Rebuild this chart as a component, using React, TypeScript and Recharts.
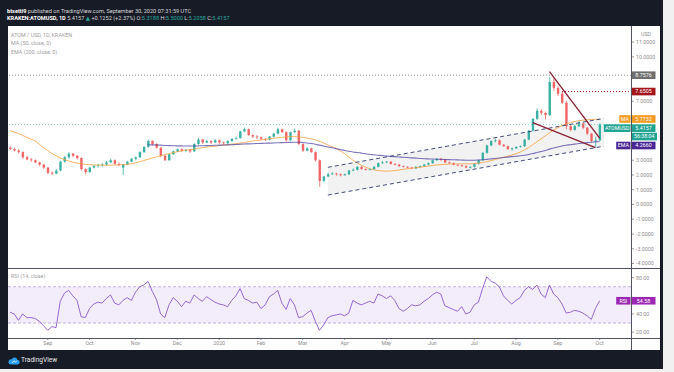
import React from 'react';
import { ComposedChart, Bar, Line, Area, XAxis, YAxis, ReferenceLine, ReferenceArea } from 'recharts';

// 3-day candles, Aug 3 2019 -> Sep 30 2020 : [open, high, low, close]
const candles: number[][] = [
  [3.85,3.95,3.70,3.75],[3.75,3.85,3.60,3.65],[3.65,3.75,3.45,3.55],[3.55,3.60,3.10,3.20],[3.20,3.30,3.00,3.05],
  [3.05,3.15,2.90,3.00],[3.00,3.05,2.80,2.85],[2.85,2.90,2.60,2.70],[2.70,2.75,2.40,2.50],[2.50,2.55,2.05,2.15],
  [2.15,2.25,2.00,2.10],[2.10,2.40,2.05,2.30],[2.30,2.95,2.25,2.90],[2.90,3.30,2.85,3.20],[3.20,3.55,3.10,3.45],
  [3.45,3.50,3.20,3.30],[3.30,3.35,3.05,3.15],[3.15,3.20,2.30,2.40],[2.40,2.45,2.05,2.20],[2.20,2.55,2.15,2.50],
  [2.50,2.70,2.45,2.60],[2.60,2.75,2.50,2.65],[2.65,2.80,2.55,2.70],[2.70,2.95,2.65,2.85],[2.85,3.10,2.80,3.00],
  [3.00,3.05,2.70,2.75],[2.75,2.85,2.60,2.70],[2.50,2.75,2.00,2.70],[2.70,2.95,2.65,2.90],[2.90,3.15,2.85,3.10],
  [3.10,3.25,3.00,3.20],[3.20,3.60,3.15,3.55],[3.55,3.95,3.50,3.90],[3.90,4.40,3.85,4.30],[4.30,4.35,4.00,4.10],
  [4.10,4.15,3.80,3.85],[3.85,3.90,3.20,3.30],[3.30,3.35,2.95,3.00],[3.00,3.45,2.95,3.40],[3.40,3.65,3.35,3.60],
  [3.60,3.80,3.55,3.75],[3.75,3.80,3.55,3.65],[3.65,3.75,3.55,3.70],[3.70,3.75,3.50,3.60],[3.60,4.15,3.55,4.10],
  [4.10,4.50,4.05,4.40],[4.40,4.45,4.10,4.20],[4.20,4.40,4.15,4.30],[4.30,4.35,4.10,4.20],[4.20,4.45,4.15,4.35],
  [4.35,4.40,4.10,4.20],[4.20,4.25,4.05,4.15],[4.15,4.35,4.10,4.30],[4.30,4.50,4.25,4.45],[4.45,4.60,4.40,4.50],
  [4.50,5.00,4.45,4.95],[4.95,5.20,4.90,5.10],[5.10,5.15,4.65,4.70],[4.70,4.75,4.50,4.60],[4.60,4.70,4.45,4.55],
  [4.55,4.60,4.35,4.45],[4.45,4.50,4.30,4.40],[4.40,4.65,4.35,4.60],[4.60,4.85,4.55,4.80],[4.80,5.20,4.75,5.10],
  [5.10,5.15,4.85,4.90],[4.90,4.95,4.25,4.35],[4.35,4.95,4.30,4.90],[4.90,5.15,4.85,5.00],[5.00,5.05,4.00,4.10],
  [4.10,4.15,3.55,3.65],[3.65,3.90,3.60,3.80],[3.80,3.85,3.50,3.55],[3.55,3.60,2.90,3.00],[3.00,3.05,1.20,1.60],
  [1.60,1.95,1.50,1.90],[1.90,2.15,1.85,2.05],[2.05,2.20,2.00,2.10],[2.10,2.15,1.95,2.05],[2.05,2.10,1.90,1.98],
  [1.98,2.10,1.95,2.05],[2.05,2.35,2.00,2.30],[2.30,2.45,2.25,2.35],[2.35,2.60,2.30,2.55],[2.55,2.60,2.35,2.40],
  [2.40,2.45,2.30,2.35],[2.35,2.45,2.30,2.40],[2.40,2.60,2.35,2.55],[2.55,2.85,2.50,2.80],[2.80,2.95,2.75,2.85],
  [2.85,2.95,2.80,2.90],[2.90,2.95,2.70,2.75],[2.75,2.80,2.65,2.70],[2.70,2.75,2.55,2.60],[2.60,2.65,2.50,2.55],
  [2.55,2.60,2.45,2.50],[2.50,2.55,2.40,2.45],[2.45,2.60,2.40,2.55],[2.55,2.65,2.50,2.60],[2.60,2.75,2.55,2.70],
  [2.70,2.85,2.65,2.80],[2.80,3.05,2.75,3.00],[3.00,3.15,2.95,3.10],[3.10,3.15,2.95,3.05],[3.05,3.10,2.80,2.85],
  [2.85,2.90,2.75,2.80],[2.80,2.85,2.65,2.70],[2.70,2.75,2.60,2.65],[2.65,2.70,2.55,2.60],[2.60,2.65,2.45,2.50],
  [2.50,2.60,2.45,2.55],[2.55,2.80,2.50,2.75],[2.75,3.05,2.70,3.00],[3.00,3.55,2.95,3.50],[3.50,4.05,3.45,4.00],
  [4.00,4.35,3.95,4.30],[4.30,4.45,4.20,4.35],[4.35,4.40,4.00,4.05],[4.05,4.10,3.90,3.95],[3.95,4.00,3.70,3.75],
  [3.75,3.85,3.65,3.80],[3.80,3.95,3.75,3.90],[3.90,4.00,3.85,3.95],[3.95,4.45,3.90,4.40],[4.40,5.05,4.35,5.00],
  [5.00,5.85,4.95,5.80],[5.80,6.50,5.70,6.35],[6.35,6.45,6.05,6.20],[6.20,6.30,5.75,6.05],[6.05,8.65,6.00,8.30],
  [8.30,8.55,7.70,7.90],[7.90,8.00,7.35,7.50],[7.50,7.65,6.80,6.90],[6.90,7.00,5.10,5.30],[5.30,5.45,4.95,5.05],
  [5.05,5.40,5.00,5.30],[5.30,5.65,5.25,5.50],[5.50,5.55,5.10,5.20],[5.20,5.25,4.70,4.80],[4.80,4.85,4.20,4.30],
  [4.30,4.60,3.90,4.35],[4.35,5.50,4.30,5.4157],
];

const ma50: number[] = [
  5.00,4.90,4.80,4.68,4.55,4.43,4.30,4.08,3.85,3.65,
  3.45,3.30,3.15,3.05,2.95,2.87,2.80,2.76,2.72,2.70,
  2.68,2.67,2.66,2.66,2.66,2.67,2.68,2.70,2.72,2.76,
  2.82,2.90,2.98,3.06,3.15,3.22,3.30,3.38,3.45,3.52,
  3.58,3.63,3.68,3.72,3.75,3.80,3.85,3.89,3.92,3.95,
  3.98,4.02,4.05,4.09,4.12,4.16,4.20,4.25,4.30,4.34,
  4.37,4.41,4.45,4.49,4.52,4.55,4.58,4.59,4.60,4.58,
  4.55,4.50,4.45,4.38,4.28,4.16,4.03,3.92,3.80,3.62,
  3.45,3.22,3.00,2.82,2.66,2.53,2.43,2.35,2.30,2.27,
  2.26,2.27,2.30,2.34,2.38,2.42,2.45,2.49,2.52,2.56,
  2.60,2.64,2.68,2.70,2.72,2.74,2.75,2.75,2.75,2.75,
  2.76,2.77,2.80,2.84,2.90,2.97,3.05,3.12,3.20,3.27,
  3.35,3.44,3.55,3.70,3.85,4.05,4.25,4.45,4.65,4.85,
  5.05,5.20,5.35,5.45,5.55,5.62,5.68,5.71,5.74,5.76,
  5.77,5.7732,
];

const ema200: (number | null)[] = [
  null,null,null,null,null,null,null,null,null,null,
  null,null,null,null,null,null,null,null,null,null,
  null,null,null,null,null,null,null,null,null,null,
  null,null,null,4.05,4.04,4.03,4.02,4.00,3.99,3.98,
  3.97,3.97,3.96,3.96,3.96,3.97,3.98,3.99,4.00,4.01,
  4.02,4.03,4.04,4.05,4.06,4.08,4.10,4.11,4.12,4.13,
  4.14,4.15,4.16,4.17,4.18,4.19,4.20,4.21,4.22,4.22,
  4.20,4.17,4.13,4.08,4.02,3.96,3.90,3.84,3.78,3.72,
  3.66,3.61,3.56,3.52,3.48,3.44,3.40,3.37,3.34,3.31,
  3.28,3.26,3.24,3.22,3.20,3.18,3.16,3.14,3.12,3.10,
  3.09,3.08,3.07,3.06,3.05,3.04,3.03,3.02,3.01,3.00,
  3.00,3.00,3.01,3.03,3.06,3.09,3.12,3.15,3.18,3.21,
  3.24,3.27,3.30,3.34,3.39,3.45,3.52,3.59,3.66,3.75,
  3.83,3.90,3.96,4.01,4.05,4.09,4.13,4.16,4.19,4.22,
  4.24,4.266,
];

const rsi14: number[] = [
  42,40,33,40,36,36,35,32,27,22,
  26,25,54,63,66,60,55,37,36,46,
  51,53,52,57,61,52,50,55,58,55,
  64,70,72,76,65,56,40,36,50,58,
  54,48,54,52,61,57,54,59,56,53,
  51,50,48,55,60,68,57,55,52,53,
  46,50,59,62,66,52,45,57,50,36,
  37,41,44,32,22,28,36,38,39,40,
  38,41,55,52,50,52,54,52,62,60,
  57,60,55,46,43,46,50,49,50,54,
  57,61,64,62,49,47,45,43,48,40,
  42,50,53,68,81,76,74,70,60,55,
  51,55,58,66,70,67,72,62,58,72,
  62,58,51,41,42,44,43,41,38,34,
  46,54.58,
];

// trend-line drawings: [slot, price]
const channelUpper: number[][] = [[76, 2.52], [142, 5.83]];
const channelLower: number[][] = [[76, 0.64], [142, 3.95]];
const wedgeUpper: number[][] = [[129, 9.0], [141, 4.5]];
const wedgeLower: number[][] = [[125, 5.55], [140, 3.85]];

const TOTAL_SLOTS = 149;
const monthTicks = [9, 19, 30, 40, 50, 60, 70, 80, 90, 101, 111, 121, 131, 141];
const monthLabels = ['Sep', 'Oct', 'Nov', 'Dec', '2020', 'Feb', 'Mar', 'Apr', 'May', 'Jun', 'Jul', 'Aug', 'Sep', 'Oct'];
// price-axis ticks that are not hidden behind the axis tags
const priceTicks = [-4, -3, -2, -1, 0, 1, 2, 3, 7, 10, 11];
const rsiTicks = [20, 40, 80];

const LAST = 5.4157;
const HIGH_LINE = 8.7576;
const RES_LINE = 7.6505;
const MA_LAST = 5.7732;
const EMA_LAST = 4.266;
const RSI_LAST = 54.58;

const rows: any[] = [];
for (let i = 0; i < TOTAL_SLOTS; i++) {
  const r: any = { i };
  const c = candles[i];
  if (c) {
    r.o = c[0]; r.h = c[1]; r.l = c[2]; r.c = c[3];
    r.range = [c[2], c[1]];
    r.ma = ma50[i];
    r.ema = ema200[i];
    r.rsi = rsi14[i];
  }
  rows.push(r);
}
const putLine = (key: string, pts: number[][]) => pts.forEach(([s, v]) => { rows[s][key] = v; });
putLine('chUp', channelUpper);
putLine('chLo', channelLower);
putLine('wUp', wedgeUpper);
putLine('wLo', wedgeLower);
channelUpper.forEach(([s, v], k) => { rows[s].chBand = [channelLower[k][1], v]; });

const FONT = 'Roboto, "DejaVu Sans", sans-serif';

const Candle = (props: any) => {
  const { x, y, width, height, payload } = props;
  if (!payload || payload.o == null) return null;
  const { o, h, l, c } = payload;
  const top = Math.min(y, y + height);
  const bot = Math.max(y, y + height);
  const k = (bot - top) / (h - l);
  const yO = top + (h - o) * k;
  const yC = top + (h - c) * k;
  const color = c >= o ? '#2bab9c' : '#ef5a5a';
  const cx = x + width / 2;
  const bw = 2.4;
  return (
    <g opacity={0.92}>
      <line x1={cx} x2={cx} y1={top} y2={bot} stroke={color} strokeWidth={0.8} />
      <rect x={cx - bw / 2} y={Math.min(yO, yC)} width={bw} height={Math.max(0.8, Math.abs(yO - yC))} fill={color} />
    </g>
  );
};

function makeTag(value: string, bg: string, prefix?: string, dy = 0, sub?: string) {
  return (props: any) => {
    const vb = props.viewBox || {};
    const xr = (vb.x || 0) + (vb.width || 0);
    const yc = (vb.y || 0) + dy;
    const h = 7.6;
    const vw = 24;
    const pw = prefix ? prefix.length * 3.1 + 5 : 0;
    return (
      <g style={{ fontFamily: FONT }}>
        {prefix ? (
          <g>
            <rect x={xr - pw - 0.5} y={yc - h / 2} width={pw} height={h} fill={bg} />
            <text x={xr - pw / 2 - 0.5} y={yc} dy="0.35em" textAnchor="middle" fontSize={5.3} fill="#fff">{prefix}</text>
          </g>
        ) : null}
        <rect x={xr + 0.5} y={yc - h / 2} width={vw} height={h} fill={bg} />
        <text x={xr + 0.5 + vw / 2} y={yc} dy="0.35em" textAnchor="middle" fontSize={5.3} fill="#fff">{value}</text>
        {sub ? (
          <g>
            <rect x={xr + 0.5} y={yc + h / 2 + 0.8} width={vw + 1.5} height={h} fill={bg} />
            <text x={xr + 0.5 + (vw + 1.5) / 2} y={yc + h + 0.8} dy="0.35em" textAnchor="middle" fontSize={5.3} fill="#fff">{sub}</text>
          </g>
        ) : null}
      </g>
    );
  };
}

const tickStyle = { fontSize: 5.3, fill: '#8d8d8d', fontFamily: FONT };

export default function App() {
  return (
    <div style={{ position: 'absolute', left: 0, top: 0, width: 674, height: 372, background: '#f1f1f1', overflow: 'hidden', fontFamily: FONT }}>
      <div style={{ position: 'absolute', left: 0, top: 0, width: 663, height: 369, background: '#171b26' }} />
      <div style={{ position: 'absolute', left: 7, top: 8, fontSize: 5.6, lineHeight: '7px', color: '#d6d6d6', whiteSpace: 'nowrap' }}>
        <b style={{ color: '#ffffff' }}>btsetti9</b> published on TradingView.com, September 30, 2020 07:31:59 UTC
      </div>
      <div style={{ position: 'absolute', left: 7, top: 15, fontSize: 5.6, lineHeight: '7px', color: '#d6d6d6', whiteSpace: 'nowrap' }}>
        <b style={{ color: '#ffffff' }}>KRAKEN:ATOMUSD, 1D</b> 5.4157 <span style={{ color: '#26a69a' }}>▲</span> +0.1252 (+2.37%) O:<span style={{ color: '#26a69a' }}>5.3188</span> H:<span style={{ color: '#26a69a' }}>5.5000</span> L:<span style={{ color: '#26a69a' }}>5.2058</span> C:<span style={{ color: '#26a69a' }}>5.4157</span>
      </div>

      <div style={{ position: 'absolute', left: 8, top: 26, width: 652, height: 324, background: '#ffffff' }} />

      <div style={{ position: 'absolute', left: 8, top: 26 }}>
        <ComposedChart width={652} height={242} data={rows} margin={{ top: 0, right: 0, bottom: 0, left: 0 }} barCategoryGap="20%">
          <XAxis dataKey="i" type="category" scale="band" hide />
          <YAxis
            orientation="right"
            width={29}
            type="number"
            domain={[-4.3, 12.09]}
            allowDataOverflow
            ticks={priceTicks}
            interval={0}
            tickFormatter={(v: number) => v.toFixed(4)}
            tick={tickStyle}
            tickSize={3}
            tickMargin={2}
            tickLine={{ stroke: '#9a9a9a' }}
            axisLine={false}
          />
          <ReferenceLine y={HIGH_LINE} stroke="#9a9a9a" strokeDasharray="1 2" strokeWidth={1} />
          <ReferenceLine y={LAST} stroke="#6cc7bd" strokeOpacity={0.8} strokeDasharray="1 2" strokeWidth={1} />
          <ReferenceLine segment={[{ x: 132, y: RES_LINE }, { x: 148, y: RES_LINE }]} stroke="#b71c1c" strokeDasharray="1 2" strokeWidth={1} />
          <Area dataKey="chBand" type="linear" connectNulls fill="#d9d9d9" fillOpacity={0.35} stroke="none" isAnimationActive={false} />
          <Line dataKey="ma" type="monotone" stroke="#f4a043" strokeOpacity={0.8} strokeWidth={1} dot={false} isAnimationActive={false} />
          <Line dataKey="ema" type="monotone" stroke="#45379a" strokeOpacity={0.7} strokeWidth={1.1} dot={false} isAnimationActive={false} />
          <Line dataKey="chUp" type="linear" connectNulls stroke="#2f3a6e" strokeDasharray="4 3" strokeWidth={0.9} dot={false} isAnimationActive={false} />
          <Line dataKey="chLo" type="linear" connectNulls stroke="#2f3a6e" strokeDasharray="4 3" strokeWidth={0.9} dot={false} isAnimationActive={false} />
          <Bar dataKey="range" shape={Candle} isAnimationActive={false} />
          <Line dataKey="wUp" type="linear" connectNulls stroke="#8b2335" strokeWidth={1.4} dot={false} isAnimationActive={false} />
          <Line dataKey="wLo" type="linear" connectNulls stroke="#8b2335" strokeWidth={1.4} dot={false} isAnimationActive={false} />
          <ReferenceLine y={HIGH_LINE} stroke="none" label={makeTag('8.7576', '#6e6e6e')} />
          <ReferenceLine y={RES_LINE} stroke="none" label={makeTag('7.6505', '#a3161b')} />
          <ReferenceLine y={MA_LAST} stroke="none" label={makeTag('5.7732', '#f59a23', 'MA', -0.3)} />
          <ReferenceLine y={LAST} stroke="none" label={makeTag('5.4157', '#21a392', 'ATOMUSD', 3.6, '56:38:04')} />
          <ReferenceLine y={EMA_LAST} stroke="none" label={makeTag('4.2660', '#4a2795', 'EMA', 4)} />
        </ComposedChart>
      </div>

      <div style={{ position: 'absolute', left: 8, top: 268 }}>
        <ComposedChart width={652} height={82} data={rows} margin={{ top: 0, right: 0, bottom: 0, left: 0 }}>
          <XAxis
            dataKey="i"
            type="category"
            scale="band"
            height={12}
            ticks={monthTicks}
            interval={0}
            tickFormatter={(v: any) => monthLabels[monthTicks.indexOf(Number(v))] ?? ''}
            tick={tickStyle}
            tickSize={2}
            tickMargin={1}
            tickLine={{ stroke: '#9a9a9a' }}
            axisLine={false}
          />
          <YAxis
            orientation="right"
            width={29}
            type="number"
            domain={[13.5, 90.7]}
            allowDataOverflow
            ticks={rsiTicks}
            interval={0}
            tickFormatter={(v: number) => v.toFixed(2)}
            tick={tickStyle}
            tickSize={3}
            tickMargin={2}
            tickLine={{ stroke: '#9a9a9a' }}
            axisLine={false}
          />
          <ReferenceArea y1={30} y2={70} fill="#9c6ade" fillOpacity={0.13} stroke="none" />
          <ReferenceLine y={70} stroke="#b9a3d6" strokeDasharray="3 2" strokeWidth={0.8} />
          <ReferenceLine y={30} stroke="#b9a3d6" strokeDasharray="3 2" strokeWidth={0.8} />
          <Line dataKey="rsi" type="linear" stroke="#8c5ac8" strokeWidth={0.9} dot={false} isAnimationActive={false} />
          <ReferenceLine y={RSI_LAST} stroke="none" label={makeTag('54.58', '#9c27b0', 'RSI')} />
        </ComposedChart>
      </div>

      {/* pane separators */}
      <div style={{ position: 'absolute', left: 8, top: 267.5, width: 652, height: 1, background: '#50535e' }} />
      <div style={{ position: 'absolute', left: 8, top: 337.5, width: 652, height: 1, background: '#50535e' }} />
      <div style={{ position: 'absolute', left: 630.5, top: 26, width: 1, height: 324, background: '#50535e' }} />

      {/* legends */}
      <div style={{ position: 'absolute', left: 11, top: 31, fontSize: 5.4, lineHeight: '8.4px', color: '#a0a0a0', whiteSpace: 'nowrap' }}>
        <div>ATOM / USD, 1D, KRAKEN</div>
        <div>MA (50, close, 0)</div>
        <div>EMA (200, close, 0)</div>
      </div>
      <div style={{ position: 'absolute', left: 11, top: 273, fontSize: 5.4, color: '#a0a0a0', whiteSpace: 'nowrap' }}>RSI (14, close)</div>
      <div style={{ position: 'absolute', left: 641, top: 31, fontSize: 5.3, color: '#8d8d8d' }}>USD</div>

      {/* footer */}
      <svg style={{ position: 'absolute', left: 8, top: 356 }} width={12} height={9} viewBox="0 0 12 9">
        <path d="M2.5 8.5 H9.5 A2.2 2.2 0 0 0 9.6 4.1 A3.2 3.2 0 0 0 3.6 3.4 A2.6 2.6 0 0 0 2.5 8.5 Z" fill="#2a9df4" />
        <path d="M4 7 L6 4.8 L7.5 6.2 L9 4.6" stroke="#ffffff" strokeWidth={0.8} fill="none" />
      </svg>
      <div style={{ position: 'absolute', left: 21, top: 356, fontSize: 6.6, color: '#e8e8e8', whiteSpace: 'nowrap' }}>TradingView</div>
    </div>
  );
}
